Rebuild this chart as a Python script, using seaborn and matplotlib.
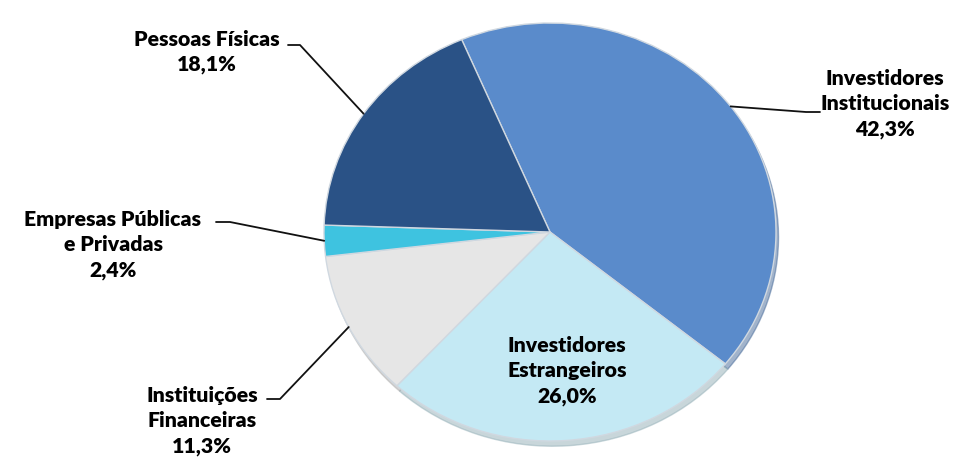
import numpy as np
import matplotlib

matplotlib.use("Agg")
import matplotlib.pyplot as plt
import seaborn as sns


categories = [
    "Investidores\nInstitucionais",
    "Investidores\nEstrangeiros",
    "Instituições\nFinanceiras",
    "Empresas Públicas\ne Privadas",
    "Pessoas Físicas",
]
shares = [42.3, 26.0, 11.3, 2.4, 18.1]
colors = ["#5a8bcb", "#c4e9f4", "#e6e6e6", "#3ec3e0", "#2a5286"]

W, H = 962, 458
CX, CY, RX, RY = 550, 232, 226, 209

# label block centre (px), leader start + elbow (px) or None for inside label
layout = [
    ((885, 104), (820, 112), (806, 112)),
    ((567, 371), None, None),
    ((202, 421), (267, 399), (280, 399)),
    ((113, 245), (216, 222), (230, 222)),
    ((207, 52), (288, 45), (300, 45)),
]


def px(x, y):
    return (x - CX) / RX, (CY - y) / RY


def pct(v):
    return f"{v:.1f}%".replace(".", ",")


sns.set_theme(style="white")
plt.rcParams["font.family"] = ["Lato", "DejaVu Sans"]

fig = plt.figure(figsize=(W / 100, H / 100), dpi=100)
ax = fig.add_axes([0, 0, 1, 1])
wedges, _ = ax.pie(
    shares,
    colors=colors,
    startangle=113,
    counterclock=False,
    wedgeprops={"edgecolor": "#d0d8e0", "linewidth": 1.0},
    shadow={"ox": 0.008, "oy": -0.018, "shade": 0.25},
)
ax.set_aspect("auto")
x0, _ = px(0, 0)
x1, _ = px(W, 0)
_, y0 = px(0, H)
_, y1 = px(0, 0)
ax.set_xlim(x0, x1)
ax.set_ylim(y0, y1)
ax.axis("off")

for wedge, name, val, (txt, start, elbow) in zip(wedges, categories, shares, layout):
    tx, ty = px(*txt)
    ax.text(tx, ty, f"{name}\n{pct(val)}", ha="center", va="center",
            fontsize=15.3, fontweight="heavy", color="#000000", linespacing=1.4)
    if start is None:
        continue
    mid = np.deg2rad((wedge.theta1 + wedge.theta2) / 2)
    sx, sy = px(*start)
    ex, ey = px(*elbow)
    ax.plot([sx, ex, np.cos(mid)], [sy, ey, np.sin(mid)], color="#111111", lw=1.3)

plt.savefig("out.png", dpi=100)
plt.close()
